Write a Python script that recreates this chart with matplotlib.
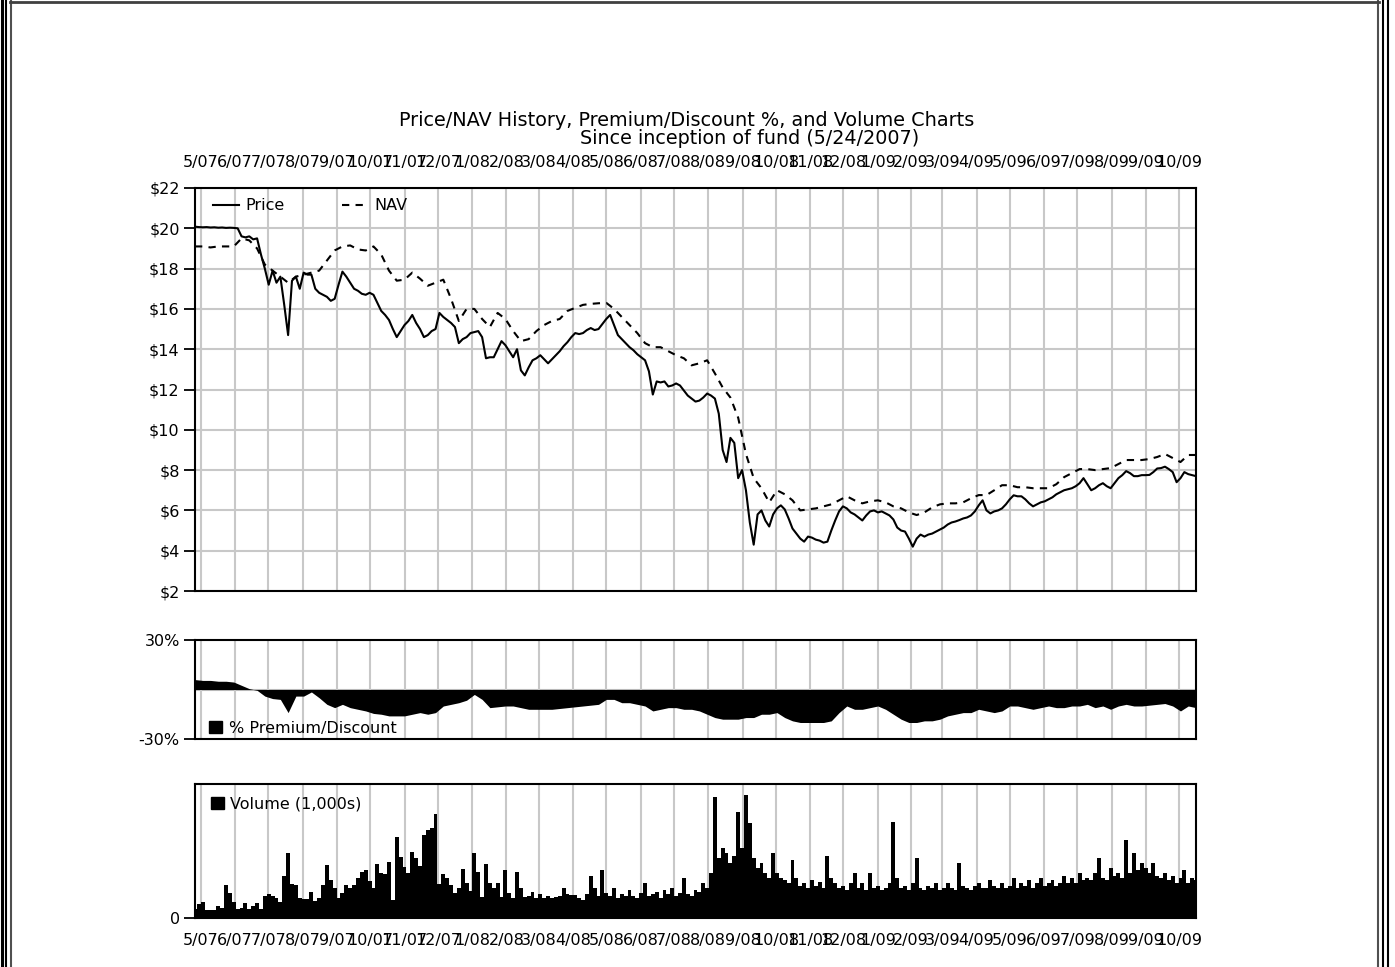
import numpy as np
import pandas as pd
import matplotlib
matplotlib.use("Agg")
import matplotlib.pyplot as plt
from matplotlib.lines import Line2D
from matplotlib.patches import Rectangle

# Observation dates since inception (5/24/2007)
weekly = pd.date_range("2007-05-24", periods=130, freq="7D")
semiweekly = pd.date_range("2007-05-24", periods=259, freq="84h")

# Market price, twice a week
price = [
    20.08, 20.06, 20.05, 20.06, 20.04, 20.05, 20.03, 20.04, 20.02, 20.03,
    20.02, 20.00, 19.60, 19.55, 19.60, 19.45, 19.50, 18.70, 18.00, 17.20,
    17.90, 17.30, 17.60, 16.20, 14.70, 17.40, 17.60, 17.00, 17.80, 17.70,
    17.70, 17.00, 16.80, 16.70, 16.60, 16.40, 16.50, 17.20, 17.85, 17.60,
    17.30, 17.00, 16.90, 16.75, 16.70, 16.80, 16.70, 16.30, 15.90, 15.70,
    15.45, 15.00, 14.60, 14.90, 15.20, 15.40, 15.70, 15.30, 15.00, 14.60,
    14.70, 14.90, 15.00, 15.80, 15.60, 15.45, 15.30, 15.10, 14.30, 14.50,
    14.60, 14.80, 14.85, 14.90, 14.60, 13.55, 13.60, 13.60, 14.00, 14.40,
    14.20, 13.90, 13.60, 14.00, 12.95, 12.70, 13.10, 13.45, 13.55, 13.70,
    13.50, 13.30, 13.50, 13.70, 13.90, 14.15, 14.35, 14.60, 14.80, 14.75,
    14.80, 14.95, 15.05, 14.95, 15.00, 15.25, 15.50, 15.70, 15.20, 14.70,
    14.50, 14.30, 14.10, 13.95, 13.75, 13.60, 13.45, 12.90, 11.75, 12.40,
    12.35, 12.40, 12.15, 12.20, 12.30, 12.20, 11.95, 11.70, 11.55, 11.40,
    11.45, 11.60, 11.80, 11.70, 11.55, 10.80, 9.00, 8.40, 9.60, 9.35,
    7.60, 8.00, 7.00, 5.40, 4.30, 5.80, 6.00, 5.50, 5.20, 5.80,
    6.10, 6.25, 6.05, 5.60, 5.10, 4.85, 4.60, 4.45, 4.70, 4.65,
    4.55, 4.50, 4.40, 4.45, 5.00, 5.50, 5.95, 6.20, 6.10, 5.90,
    5.80, 5.65, 5.50, 5.75, 5.95, 6.00, 5.90, 5.95, 5.85, 5.75,
    5.55, 5.15, 5.00, 4.95, 4.60, 4.20, 4.60, 4.80, 4.70, 4.80,
    4.85, 4.95, 5.05, 5.15, 5.30, 5.40, 5.45, 5.52, 5.60, 5.65,
    5.75, 5.95, 6.25, 6.50, 6.00, 5.85, 5.95, 6.00, 6.10, 6.30,
    6.55, 6.75, 6.70, 6.70, 6.55, 6.35, 6.20, 6.30, 6.40, 6.45,
    6.55, 6.65, 6.80, 6.90, 7.00, 7.05, 7.10, 7.20, 7.35, 7.60,
    7.30, 7.00, 7.10, 7.25, 7.35, 7.20, 7.10, 7.35, 7.60, 7.75,
    7.95, 7.85, 7.70, 7.70, 7.75, 7.75, 7.76, 7.90, 8.08, 8.10,
    8.17, 8.05, 7.90, 7.40, 7.60, 7.90, 7.80, 7.75, 7.70,
]

# Net asset value, weekly
nav = [
    19.10, 19.10, 19.05, 19.10, 19.10, 19.10, 19.50, 19.40, 19.00, 18.20,
    17.90, 17.60, 17.30, 17.60, 17.70, 17.80, 17.90, 18.40, 18.90, 19.10,
    19.15, 18.95, 18.90, 19.10, 18.70, 17.90, 17.40, 17.45, 17.80, 17.50,
    17.15, 17.30, 17.45, 16.50, 15.40, 16.00, 16.00, 15.50, 15.10, 15.80,
    15.50, 14.90, 14.40, 14.50, 14.90, 15.20, 15.40, 15.50, 15.90, 16.05,
    16.20, 16.25, 16.28, 16.30, 16.00, 15.60, 15.20, 14.80, 14.30, 14.10,
    14.10, 13.90, 13.70, 13.55, 13.20, 13.30, 13.45, 12.80, 12.10, 11.60,
    10.60, 8.80, 7.60, 7.10, 6.40, 7.00, 6.80, 6.50, 6.00, 6.05,
    6.10, 6.20, 6.30, 6.50, 6.70, 6.50, 6.35, 6.45, 6.50, 6.40,
    6.20, 6.10, 5.90, 5.77, 5.90, 6.15, 6.30, 6.35, 6.35, 6.40,
    6.60, 6.76, 6.76, 7.00, 7.25, 7.25, 7.15, 7.15, 7.10, 7.10,
    7.10, 7.30, 7.65, 7.85, 8.05, 8.05, 8.00, 8.05, 8.10, 8.30,
    8.50, 8.50, 8.50, 8.55, 8.65, 8.80, 8.60, 8.40, 8.75, 8.75,
]

# Premium (+) / discount (-) of price to NAV, percent, weekly
premium = [
    6.0, 5.5, 5.5, 5.0, 5.0, 4.5, 2.5, 0.5, -0.5, -4.0,
    -5.5, -6.0, -14.0, -4.0, -4.0, -1.5, -5.0, -9.0, -11.0, -9.0,
    -11.0, -12.0, -13.0, -14.5, -15.0, -16.0, -16.0, -16.0, -15.0, -14.0,
    -15.0, -14.0, -10.0, -9.0, -8.0, -6.5, -3.0, -6.0, -11.0, -10.5,
    -10.0, -10.0, -11.0, -12.0, -12.0, -12.0, -12.0, -11.5, -11.0, -10.5,
    -10.0, -9.5, -9.0, -6.0, -6.0, -8.0, -8.0, -9.0, -10.0, -13.0,
    -12.0, -11.0, -11.0, -12.0, -12.0, -13.0, -15.0, -17.0, -18.0, -18.0,
    -18.0, -17.0, -17.0, -15.0, -15.0, -14.0, -17.0, -19.0, -20.0, -20.0,
    -20.0, -20.0, -19.0, -14.0, -10.0, -12.0, -12.0, -11.0, -10.0, -12.0,
    -15.0, -18.0, -20.0, -20.0, -19.0, -19.0, -18.0, -16.0, -15.0, -14.0,
    -14.0, -12.0, -13.0, -14.0, -13.0, -10.0, -10.0, -11.0, -12.0, -11.0,
    -10.0, -11.0, -11.0, -10.0, -10.0, -9.0, -11.0, -10.0, -12.0, -10.0,
    -9.0, -10.0, -10.0, -9.5, -9.0, -8.5, -10.0, -13.0, -10.0, -11.0,
]

# Share volume, in thousands, twice a week
volume = [
    45, 70, 80, 40, 40, 40, 60, 50, 165, 125,
    80, 45, 50, 75, 45, 60, 75, 45, 110, 120,
    110, 100, 80, 210, 325, 170, 165, 100, 95, 95,
    130, 85, 100, 165, 265, 190, 150, 100, 125, 165,
    150, 165, 200, 230, 240, 185, 150, 270, 225, 220,
    280, 90, 405, 305, 255, 225, 330, 300, 260, 415,
    440, 450, 520, 170, 220, 200, 165, 125, 150, 245,
    175, 135, 325, 230, 105, 270, 175, 150, 175, 105,
    240, 125, 100, 230, 150, 105, 110, 130, 100, 120,
    100, 110, 100, 105, 110, 150, 120, 115, 115, 100,
    90, 120, 210, 150, 110, 240, 125, 110, 150, 100,
    120, 110, 140, 110, 100, 125, 175, 110, 120, 130,
    100, 140, 120, 150, 110, 125, 200, 120, 110, 140,
    130, 175, 150, 225, 605, 300, 350, 325, 275, 310,
    530, 350, 615, 475, 300, 250, 275, 225, 200, 325,
    225, 200, 190, 175, 290, 200, 160, 175, 150, 190,
    160, 180, 150, 310, 200, 175, 150, 160, 140, 175,
    225, 150, 175, 140, 225, 150, 160, 140, 150, 175,
    480, 200, 150, 160, 140, 175, 300, 150, 140, 160,
    150, 175, 140, 150, 175, 150, 140, 275, 160, 150,
    140, 160, 175, 150, 150, 190, 160, 150, 175, 150,
    160, 200, 150, 175, 160, 190, 150, 175, 200, 160,
    175, 190, 160, 175, 210, 175, 200, 175, 225, 190,
    200, 190, 225, 300, 200, 190, 250, 210, 225, 200,
    390, 225, 325, 240, 275, 250, 225, 275, 210, 200,
    225, 190, 210, 175, 200, 240, 175, 200, 190,
]

# Month labels for the date axis
tick_dates = pd.date_range("2007-05-29", periods=30, freq=pd.DateOffset(months=1))
tick_labels = [f"{d.month}/{d.strftime('%y')}" for d in tick_dates]

W, H = 1395, 967
fig = plt.figure(figsize=(W / 100, H / 100), dpi=100)
fig.patch.set_facecolor("white")

TICK_FONT = dict(family="DejaVu Sans", size=11.5)
GRID = dict(color="#c8c8c8", linewidth=1.5)
NAV_DASH = (3.5, 3.0)
x0, x1 = pd.Timestamp("2007-05-24"), pd.Timestamp("2009-11-12")


def panel(top, bottom):
    return fig.add_axes([195 / W, 1 - bottom / H, 1001 / W, (bottom - top) / H])


def style(ax):
    ax.set_xlim(x0, x1)
    ax.set_xticks(tick_dates)
    ax.xaxis.grid(True, **GRID)
    ax.set_axisbelow(True)
    for s in ax.spines.values():
        s.set_linewidth(1.5)
        s.set_color("black")
    ax.tick_params(axis="y", length=8, width=1.3, pad=3, labelsize=TICK_FONT["size"])
    ax.tick_params(axis="x", length=0)


def box_handle():
    return Rectangle((0, 0), 1, 1, color="black")


# Price / NAV panel
ax1 = panel(188, 591)
style(ax1)
ax1.yaxis.grid(True, **GRID)
ax1.plot(semiweekly, price, color="black", linewidth=1.5)
ax1.plot(weekly, nav, color="black", linewidth=1.5, dashes=NAV_DASH)
ax1.set_ylim(2, 22)
ax1.set_yticks(range(2, 23, 2))
ax1.set_yticklabels([f"${v}" for v in range(2, 23, 2)], **TICK_FONT)
ax1.xaxis.tick_top()
ax1.tick_params(axis="x", top=True, bottom=False, labeltop=True, labelbottom=False, pad=13)
ax1.set_xticklabels(tick_labels, **TICK_FONT)
h_price = Line2D([], [], color="black", linewidth=1.5)
h_nav = Line2D([], [], color="black", linewidth=1.5, dashes=NAV_DASH)
ax1.legend([h_price, h_nav], ["Price", "NAV"], loc="upper left", ncol=2,
           frameon=False, prop=TICK_FONT, handlelength=1.6, handletextpad=0.4,
           columnspacing=3.6, borderaxespad=0.0, bbox_to_anchor=(0.012, 0.99))

# Premium / discount panel
ax2 = panel(640, 739)
style(ax2)
ax2.fill_between(weekly, premium, 0, color="black", linewidth=0)
ax2.axhline(0, color="#b8b8b8", linewidth=1.5, zorder=0.5)
ax2.set_ylim(-30, 30)
ax2.set_yticks([-30, 30])
ax2.set_yticklabels(["-30%", "30%"], **TICK_FONT)
ax2.tick_params(axis="x", labelbottom=False)
ax2.legend([box_handle()], ["% Premium/Discount"],
           loc="lower left", frameon=False, prop=TICK_FONT, handlelength=0.8,
           handleheight=0.8, handletextpad=0.4, borderaxespad=0.0,
           bbox_to_anchor=(0.008, -0.03))

# Volume panel
ax3 = panel(784, 918)
style(ax3)
ax3.bar(semiweekly, volume, width=3.5, color="black", linewidth=0, align="center")
ax3.set_ylim(0, 670)
ax3.set_yticks([0])
ax3.set_yticklabels(["0"], **TICK_FONT)
ax3.tick_params(axis="x", pad=11)
ax3.set_xticklabels(tick_labels, **TICK_FONT)
ax3.legend([box_handle()], ["Volume (1,000s)"],
           loc="upper left", frameon=False, prop=TICK_FONT, handlelength=0.8,
           handleheight=0.8, handletextpad=0.4, borderaxespad=0.3,
           bbox_to_anchor=(0.005, 0.99))

# Titles
fig.text(687 / W, 1 - 120 / H, "Price/NAV History, Premium/Discount %, and Volume Charts",
         ha="center", va="center", family="DejaVu Sans", fontsize=13.9)
fig.text(750 / W, 1 - 138 / H, "Since inception of fund (5/24/2007)",
         ha="center", va="center", family="DejaVu Sans", fontsize=13.8)


# Page frame
def vline(x, color, lw):
    fig.add_artist(Line2D([x / W, x / W], [0, 1], color=color, linewidth=lw,
                          transform=fig.transFigure))


def hline(y, xa, xb, color, lw):
    fig.add_artist(Line2D([xa / W, xb / W], [1 - y / H, 1 - y / H], color=color,
                          linewidth=lw, transform=fig.transFigure))


vline(1.5, "black", 2.2)
vline(6.0, "black", 1.5)
vline(11.0, "#505050", 1.5)
vline(1378.0, "#505050", 1.5)
vline(1382.5, "black", 1.5)
vline(1388.0, "black", 1.5)
hline(1.5, 10, 1379, "#404040", 2.0)

fig.savefig("out.png", dpi=100)
